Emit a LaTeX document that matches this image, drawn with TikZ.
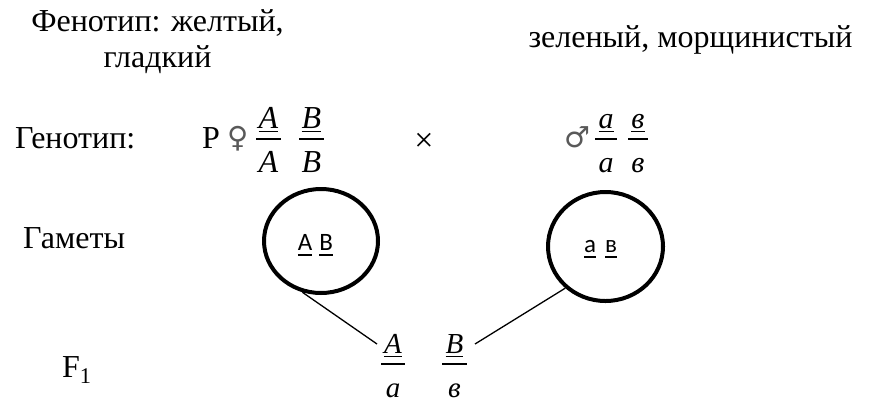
\documentclass[tikz,border=0pt]{standalone}
\usepackage{fontspec}
\setmainfont{Liberation Serif}
\newfontfamily\gamfont{Carlito}
\newfontfamily\symfont{DejaVu Sans}
\usetikzlibrary{shapes.geometric}
% underline: #1 = depth of rule bottom, #2 = thickness, #3 = text
\newcommand\myul[3]{\leavevmode\setbox0\hbox{#3}\rlap{\rule[-#1]{\wd0}{#2}}\box0}
\tikzset{
  lbl/.style={font=\fontsize{32}{36}\selectfont, inner sep=0pt},
  gam/.style={draw, ellipse, line width=4pt, inner sep=0pt},
  gtxt/.style={font=\fontsize{25}{28}\selectfont\gamfont, inner sep=0pt},
  sym/.style={font=\fontsize{29}{29}\selectfont\symfont, inner sep=0pt, text=black!65},
  link/.style={line width=1.3pt},
  fbar/.style={line width=1.4pt},
  pics/gfr/.style n args={4}{code={
    \node[anchor=base, inner sep=0pt, font=\fontsize{#3}{#3}\selectfont\itshape] (-n) at (0,-11) {\myul{4.2pt}{1.3pt}{#1}};
    \draw[fbar] (-#4,0) -- (#4,0);
    \node[anchor=base, inner sep=0pt, text depth=0pt, font=\fontsize{#3}{#3}\selectfont\itshape] (-d) at (0,33) {#2};
  }},
}
\begin{document}
\begin{tikzpicture}[x=1pt, y=-1pt]
\useasboundingbox (0,0) rectangle (877,402);
% phenotype
\node[lbl, align=center] (phen1) at (157.5,42) {Фенотип: желтый,\\гладкий};
\node[lbl, anchor=base] (phen2) at (690.5,47) {зеленый, морщинистый};
% row labels
\node[lbl, anchor=base west] (genl) at (15,148) {Генотип:};
\node[lbl, anchor=base west] (gaml) at (23,248) {Гаметы};
\node[lbl, anchor=base west] (f1l) at (62,377) {F\textsubscript{1}};
% parents
\node[lbl, anchor=base west] (P) at (202,148) {P};
\node[sym] (fem) at (238.5,139) {♀};
\pic (pa) at (268.5,139) {gfr={А}{А}{32}{12.5}};
\pic (pb) at (311.5,139) {gfr={В}{В}{32}{12.5}};
\node[lbl, font=\fontsize{34}{34}\selectfont] (cross) at (424,142) {×};
\node[sym] (mal) at (577.5,137.5) {♂};
\pic (ma) at (606,139) {gfr={а}{а}{30}{11}};
\pic (mb) at (638,139) {gfr={в}{в}{30}{10}};
% gametes
\node[gam, minimum width=114pt, minimum height=104pt] (g1) at (321,241) {};
\node[gam, minimum width=115pt, minimum height=109pt] (g2) at (605.5,246.5) {};
\node[gtxt, anchor=base] (g1t) at (315.5,250) {\myul{6pt}{2.4pt}{А}\hspace{7pt}\myul{6pt}{2.4pt}{В}};
\node[gtxt, anchor=base] (g2t) at (600.5,252) {\myul{6pt}{2.4pt}{а}\hspace{9pt}\myul{6pt}{2.4pt}{в}};
% F1
\pic (fa) at (393,364) {gfr={А}{а}{29}{12}};
\pic (fb) at (454.5,364) {gfr={В}{в}{29}{12.5}};
\coordinate (e1) at (377,344);
\coordinate (e2) at (475,344);
\draw[link] (g1.250) -- (e1);
\draw[link] (g2.226) -- (e2);
\end{tikzpicture}
\end{document}
